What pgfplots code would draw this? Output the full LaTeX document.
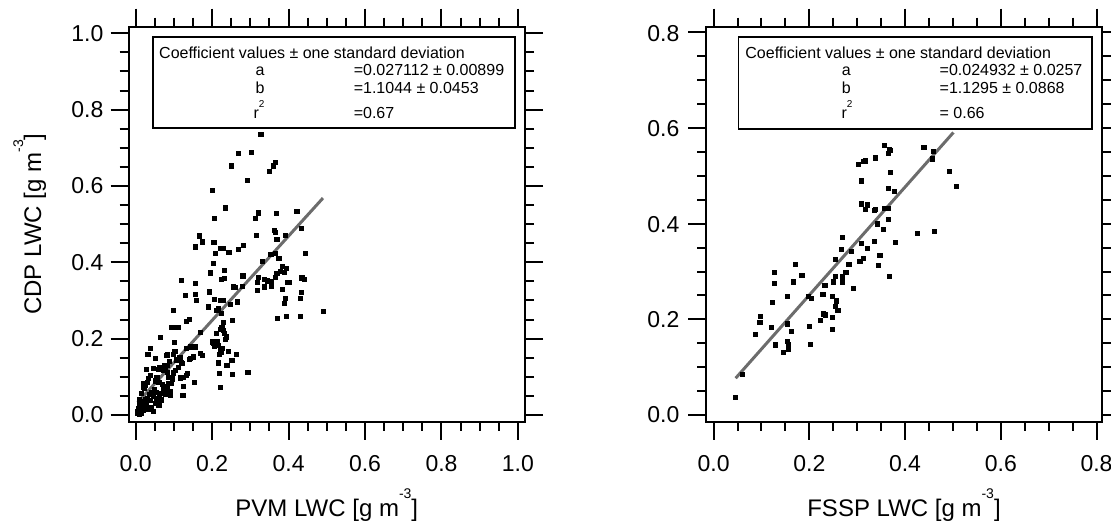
\documentclass[border=0pt]{standalone}
\usepackage{fontspec}
\setmainfont{Liberation Sans}
\usepackage{pgfplots}
\pgfplotsset{compat=1.18}
\definecolor{fitgray}{RGB}{108,108,108}
\pgfplotsset{myax/.style={
  scale only axis,
  axis line style={line width=2.2pt},
  every tick/.append style={line width=2pt, black},
  major tick style={line width=2pt, black},
  minor tick style={line width=2pt, black},
  major tick length=18pt, minor tick length=9pt,
  tick align=outside, minor tick num=3,
  xtick pos=both, ytick pos=both,
  xticklabels={}, yticklabels={},
  clip=false,
}}
\newcommand{\igsup}[1]{\raisebox{18pt}{\fontsize{14}{14}\selectfont #1}}
\newcommand{\frameit}{\draw[line width=2.2pt, line cap=rect] (rel axis cs:0,0) rectangle (rel axis cs:1,1);}
\begin{document}
\begin{tikzpicture}[x=1pt,y=1pt]
\useasboundingbox (0,0) rectangle (1111,524);
\begin{axis}[myax, at={(128.6pt,102.3pt)}, anchor=south west,
  width=396.4pt, height=395pt,
  xmin=-0.0186, xmax=1.0186, ymin=-0.0176, ymax=1.0173,
  xtick={0,0.2,0.4,0.6,0.8,1}, ytick={0,0.2,0.4,0.6,0.8,1}]
\addplot[only marks, mark=square*, mark size=2.1pt, mark options={fill=black, draw=black, line width=0.3pt}] table {
x y
0.327 0.735
0.269 0.686
0.302 0.689
0.250 0.653
0.364 0.662
0.360 0.653
0.350 0.638
0.291 0.615
0.201 0.588
0.234 0.543
0.206 0.515
0.320 0.530
0.367 0.528
0.421 0.533
0.313 0.515
0.433 0.489
0.363 0.485
0.364 0.479
0.316 0.472
0.165 0.470
0.174 0.454
0.204 0.452
0.369 0.460
0.391 0.471
0.155 0.441
0.220 0.438
0.229 0.438
0.243 0.426
0.268 0.435
0.281 0.444
0.207 0.424
0.444 0.424
0.353 0.421
0.364 0.423
0.374 0.410
0.203 0.397
0.330 0.402
0.194 0.373
0.231 0.380
0.231 0.358
0.224 0.356
0.280 0.365
0.118 0.354
0.155 0.345
0.336 0.355
0.343 0.352
0.355 0.350
0.364 0.362
0.369 0.371
0.378 0.377
0.388 0.375
0.383 0.389
0.393 0.384
0.321 0.362
0.318 0.349
0.336 0.336
0.355 0.338
0.318 0.328
0.383 0.329
0.397 0.349
0.402 0.349
0.434 0.360
0.441 0.356
0.433 0.321
0.430 0.307
0.390 0.307
0.388 0.293
0.254 0.336
0.260 0.334
0.279 0.338
0.193 0.323
0.129 0.314
0.155 0.317
0.159 0.301
0.206 0.303
0.222 0.301
0.228 0.301
0.248 0.290
0.266 0.297
0.190 0.284
0.210 0.275
0.216 0.279
0.224 0.266
0.098 0.275
0.140 0.251
0.131 0.245
0.252 0.249
0.371 0.253
0.393 0.258
0.430 0.258
0.491 0.271
0.093 0.231
0.105 0.231
0.112 0.230
0.168 0.217
0.210 0.214
0.220 0.225
0.229 0.244
0.225 0.231
0.228 0.222
0.232 0.215
0.236 0.205
0.234 0.198
0.200 0.192
0.204 0.188
0.208 0.185
0.212 0.194
0.215 0.182
0.206 0.180
0.220 0.172
0.223 0.165
0.226 0.175
0.218 0.160
0.242 0.168
0.262 0.160
0.251 0.144
0.238 0.131
0.216 0.137
0.218 0.109
0.253 0.107
0.293 0.113
0.221 0.072
0.003 0.005
0.005 0.010
0.008 0.003
0.010 0.008
0.012 0.015
0.006 0.018
0.015 0.005
0.018 0.012
0.013 0.025
0.020 0.020
0.022 0.030
0.017 0.035
0.025 0.040
0.028 0.028
0.030 0.045
0.033 0.015
0.035 0.055
0.038 0.038
0.040 0.060
0.045 0.050
0.048 0.068
0.050 0.030
0.055 0.035
0.058 0.045
0.060 0.025
0.062 0.055
0.020 0.074
0.024 0.079
0.029 0.087
0.033 0.096
0.037 0.105
0.046 0.122
0.050 0.090
0.055 0.100
0.060 0.085
0.062 0.125
0.068 0.124
0.068 0.057
0.072 0.118
0.072 0.070
0.077 0.067
0.077 0.055
0.078 0.122
0.081 0.131
0.081 0.074
0.085 0.083
0.090 0.055
0.092 0.083
0.098 0.111
0.103 0.118
0.118 0.137
0.123 0.100
0.133 0.105
0.123 0.052
0.125 0.076
0.153 0.086
0.027 0.120
0.031 0.160
0.037 0.175
0.051 0.149
0.064 0.203
0.081 0.157
0.102 0.167
0.101 0.191
0.082 0.158
0.133 0.175
0.142 0.179
0.155 0.179
0.142 0.148
0.151 0.153
0.168 0.162
0.173 0.157
0.058 0.120
0.075 0.129
0.082 0.113
0.104 0.118
0.121 0.135
0.139 0.146
0.134 0.109
0.117 0.098
0.091 0.061
0.091 0.051
0.010 0.040
0.014 0.057
0.019 0.083
0.023 0.070
0.008 0.030
0.045 0.010
0.040 0.020
0.052 0.060
0.065 0.040
0.070 0.080
0.085 0.100
0.088 0.140
0.095 0.095
0.110 0.125
0.115 0.150
0.097 0.160
0.105 0.145
};
\addplot[fitgray, line width=3pt] coordinates {(0.005,0.0326) (0.490,0.5683)};
\frameit
\end{axis}
\begin{axis}[myax, at={(706pt,102.3pt)}, anchor=south west,
  width=396pt, height=395pt,
  xmin=-0.0159, xmax=0.8115, ymin=-0.014, ymax=0.812,
  xtick={0,0.2,0.4,0.6,0.8}, ytick={0,0.2,0.4,0.6,0.8}]
\addplot[only marks, mark=square*, mark size=2.1pt, mark options={fill=black, draw=black, line width=0.3pt}] table {
x y
0.045 0.038
0.059 0.085
0.087 0.169
0.096 0.194
0.098 0.206
0.120 0.183
0.122 0.236
0.126 0.298
0.126 0.275
0.129 0.147
0.145 0.132
0.153 0.248
0.153 0.191
0.154 0.154
0.155 0.147
0.156 0.138
0.162 0.176
0.166 0.279
0.171 0.316
0.184 0.293
0.197 0.249
0.203 0.244
0.200 0.185
0.201 0.148
0.222 0.199
0.228 0.252
0.229 0.212
0.233 0.210
0.232 0.271
0.247 0.249
0.247 0.204
0.247 0.180
0.249 0.279
0.254 0.326
0.254 0.291
0.256 0.239
0.254 0.228
0.259 0.219
0.266 0.347
0.268 0.372
0.269 0.290
0.269 0.279
0.276 0.298
0.282 0.316
0.288 0.342
0.292 0.265
0.302 0.524
0.305 0.321
0.308 0.490
0.309 0.360
0.309 0.442
0.312 0.328
0.313 0.530
0.316 0.532
0.316 0.431
0.320 0.440
0.321 0.349
0.335 0.428
0.336 0.363
0.338 0.538
0.338 0.430
0.342 0.400
0.343 0.314
0.347 0.334
0.354 0.388
0.356 0.433
0.357 0.565
0.365 0.432
0.365 0.410
0.365 0.475
0.364 0.548
0.367 0.555
0.369 0.553
0.369 0.508
0.367 0.291
0.377 0.468
0.379 0.361
0.426 0.381
0.439 0.560
0.456 0.536
0.459 0.552
0.461 0.384
0.492 0.510
0.506 0.479
};
\addplot[fitgray, line width=3pt] coordinates {(0.046,0.0769) (0.501,0.5908)};
\frameit
\end{axis}
% tick labels
\begin{scope}[every node/.style={inner sep=0pt, font=\fontsize{23}{23}\selectfont}]
\foreach \x/\t in {135.7/0.0, 212.1/0.2, 288.6/0.4, 365.0/0.6, 441.5/0.8, 517.9/1.0,
                   713.6/0.0, 809.3/0.2, 905.0/0.4, 1000.8/0.6, 1096.5/0.8}
  \node[anchor=base] at (\x,52.3) {\t};
\foreach \y/\t in {109/0.0, 185.3/0.2, 261.7/0.4, 338/0.6, 414.4/0.8, 490.7/1.0}
  \node[anchor=east] at (103.6,\y) {\t};
\foreach \y/\t in {109/0.0, 204.4/0.2, 299.8/0.4, 395.2/0.6, 490.7/0.8}
  \node[anchor=east] at (679.5,\y) {\t};
\end{scope}
% axis labels
\begin{scope}[every node/.style={inner sep=0pt, font=\fontsize{24}{24}\selectfont}]
\node[anchor=base] at (326.8,7) {PVM LWC [g m\igsup{-3}]};
\node[anchor=base] at (904,7) {FSSP LWC [g m\igsup{-3}]};
\node[anchor=base, rotate=90] at (41,299.8) {CDP LWC [g m\igsup{-3}]};
\end{scope}
% coefficient boxes
\draw[line width=1.8pt, fill=white] (152.9,396.3) rectangle (515,486.7);
\draw[line width=1.8pt, fill=white] (738.5,395) rectangle (1092.3,486.7);
\begin{scope}[every node/.style={inner sep=0pt, font=\fontsize{16}{16}\selectfont}]
\node[anchor=base west] at (159,465.7) {Coefficient values ± one standard deviation};
\node[anchor=base] at (260,448) {a};
\node[anchor=base] at (260,430) {b};
\node[anchor=base] at (259,405.7) {r\raisebox{11pt}{\fontsize{10}{10}\selectfont 2}};
\node[anchor=base west] at (353.6,448) {=0.027112 ± 0.00899};
\node[anchor=base west] at (353.6,430) {=1.1044 ± 0.0453};
\node[anchor=base west] at (353.6,405.7) {=0.67};
\node[anchor=base west] at (745.2,465.7) {Coefficient values ± one standard deviation};
\node[anchor=base] at (846.4,448) {a};
\node[anchor=base] at (846.4,430) {b};
\node[anchor=base] at (847,405.7) {r\raisebox{11pt}{\fontsize{10}{10}\selectfont 2}};
\node[anchor=base west] at (939.5,448) {=0.024932 ± 0.0257};
\node[anchor=base west] at (939.5,430) {=1.1295 ± 0.0868};
\node[anchor=base west] at (939.5,405.7) {= 0.66};
\end{scope}
\end{tikzpicture}
\end{document}
